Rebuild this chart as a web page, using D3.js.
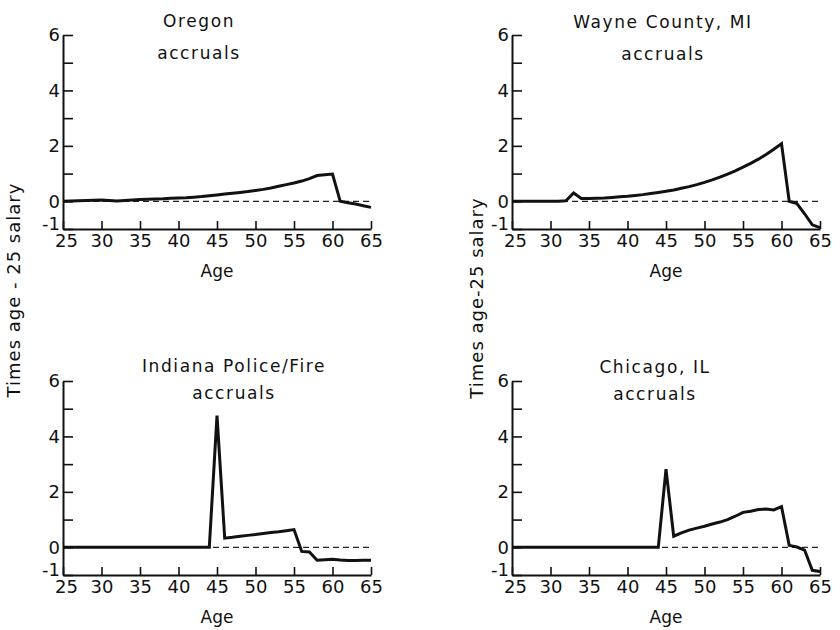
<!DOCTYPE html>
<html>
<head>
<meta charset="utf-8">
<script src="https://cdn.jsdelivr.net/npm/d3@7"></script>
<style>
  body { margin: 0; background: #fff; }
  text { font-family: 'DejaVu Sans', sans-serif; fill: #111; }
</style>
</head>
<body>
<svg id="chart" width="840" height="630"></svg>
<script>
// Accruals, in multiples of age-25 salary, by age of the worker
const ages = [25, 26, 27, 28, 29, 30, 31, 32, 33, 34, 35, 36, 37, 38, 39, 40, 41, 42, 43, 44, 45,
  46, 47, 48, 49, 50, 51, 52, 53, 54, 55, 56, 57, 58, 59, 60, 61, 62, 63, 64, 65]

const oregon = [0, 0.01, 0.02, 0.03, 0.04, 0.05, 0.03, 0.01, 0.03, 0.05, 0.06, 0.07, 0.08, 0.09, 0.11, 0.12,
  0.13, 0.15, 0.17, 0.2, 0.23, 0.26, 0.29, 0.32, 0.35, 0.39, 0.43, 0.48, 0.54, 0.6, 0.66,
  0.73, 0.82, 0.93, 0.96, 0.98, 0.0, -0.05, -0.1, -0.16, -0.22]

const wayne = [0, 0, 0, 0, 0, 0, 0, 0.02, 0.3, 0.1, 0.1, 0.11, 0.12, 0.14, 0.16, 0.18,
  0.21, 0.24, 0.28, 0.32, 0.36, 0.41, 0.47, 0.53, 0.6, 0.68, 0.77, 0.87, 0.98, 1.1, 1.23,
  1.37, 1.52, 1.69, 1.88, 2.08, 0.0, -0.08, -0.45, -0.85, -0.95]

const indiana = [0, 0, 0, 0, 0, 0, 0, 0, 0, 0, 0, 0, 0, 0, 0, 0, 0, 0, 0, 0, 4.75,
  0.33, 0.36, 0.4, 0.43, 0.46, 0.5, 0.53, 0.56, 0.6, 0.64,
  -0.15, -0.17, -0.47, -0.45, -0.43, -0.46, -0.48, -0.48, -0.47, -0.47]

const chicago = [0, 0, 0, 0, 0, 0, 0, 0, 0, 0, 0, 0, 0, 0, 0, 0, 0, 0, 0, 0, 2.82,
  0.4, 0.52, 0.62, 0.69, 0.76, 0.84, 0.91, 1.0, 1.12, 1.26,
  1.3, 1.36, 1.38, 1.35, 1.47, 0.07, 0.01, -0.1, -0.83, -0.87]

const titles = [
  ['Oregon', 'accruals'],
  ['Wayne County, MI', 'accruals'],
  ['Indiana Police/Fire', 'accruals'],
  ['Chicago, IL', 'accruals']
]

const xTicks = [25, 30, 35, 40, 45, 50, 55, 60, 65]
const yTicks = [-1, 0, 1, 2, 3, 4, 5, 6]
const yLabelled = [-1, 0, 2, 4, 6]

// where each small multiple sits on the page
const panels = [
  { left: 63, top: 35, values: oregon, title: titles[0], tx: 199, ty: 27, gap: 32 },
  { left: 512, top: 35, values: wayne, title: titles[1], tx: 663, ty: 28, gap: 32 },
  { left: 63, top: 381, values: indiana, title: titles[2], tx: 234, ty: 372, gap: 27 },
  { left: 512, top: 381, values: chicago, title: titles[3], tx: 655, ty: 373, gap: 27 }
]
const width = 308
const height = 194

const svg = d3.select('#chart')

for (const p of panels) {
  const x = d3.scaleLinear().domain([25, 65]).range([p.left, p.left + width])
  const y = d3.scaleLinear().domain([-1, 6]).range([p.top + height, p.top])

  // x axis, ticks pointing up into the plot
  const gx = svg.append('g')
    .attr('transform', 'translate(0,' + (p.top + height) + ')')
    .call(d3.axisBottom(x).tickValues(xTicks).tickSize(-8).tickSizeOuter(0).tickPadding(5))
  gx.select('.domain').attr('stroke', '#111').attr('stroke-width', 2)
  gx.selectAll('.tick line').attr('stroke', '#111').attr('stroke-width', 1.6)
  gx.selectAll('.tick text')
    .style('font-family', "'DejaVu Sans', sans-serif")
    .style('font-size', '18px')
    .attr('fill', '#111')
    // first label sits a little right of the corner, as in the print
    .attr('dx', function (d) { return d === 25 ? 3 : 0 })

  // y axis, ticks pointing right
  const gy = svg.append('g')
    .attr('transform', 'translate(' + p.left + ',0)')
    .call(d3.axisLeft(y).tickValues(yTicks).tickSize(-10).tickSizeOuter(0).tickPadding(3)
      .tickFormat(function (d) { return yLabelled.includes(d) ? String(d) : '' }))
  gy.select('.domain').attr('stroke', '#111').attr('stroke-width', 2)
  gy.selectAll('.tick line').attr('stroke', '#111').attr('stroke-width', 1.6)
  gy.selectAll('.tick text')
    .style('font-family', "'DejaVu Sans', sans-serif")
    .style('font-size', '18px')
    .attr('fill', '#111')
    .attr('y', function (d) { return d === -1 ? -5 : 0 })

  // dashed zero reference
  svg.append('line')
    .attr('x1', x(25)).attr('x2', x(65))
    .attr('y1', y(0)).attr('y2', y(0))
    .attr('stroke', '#222')
    .attr('stroke-width', 1.3)
    .attr('stroke-dasharray', '6,4')

  const line = d3.line()
    .x(function (d, i) { return x(ages[i]) })
    .y(function (d) { return y(d) })

  svg.append('path')
    .datum(p.values)
    .attr('d', line)
    .attr('fill', 'none')
    .attr('stroke', '#111')
    .attr('stroke-width', 3)
    .attr('stroke-linejoin', 'miter')
    .attr('stroke-miterlimit', 3)

  // two line title
  svg.append('text')
    .attr('x', p.tx).attr('y', p.ty)
    .attr('text-anchor', 'middle')
    .style('font-size', '17px')
    .style('letter-spacing', '1.6px')
    .text(p.title[0])
  svg.append('text')
    .attr('x', p.tx).attr('y', p.ty + p.gap)
    .attr('text-anchor', 'middle')
    .style('font-size', '17px')
    .style('letter-spacing', '1.6px')
    .text(p.title[1])

  svg.append('text')
    .attr('x', x(45)).attr('y', p.top + height + 48)
    .attr('text-anchor', 'middle')
    .style('font-size', '17px')
    .text('Age')
}

// shared y titles, one for each column
svg.append('text')
  .attr('transform', 'translate(20,290) rotate(-90)')
  .attr('text-anchor', 'middle')
  .style('font-size', '18px')
  .style('letter-spacing', '1px')
  .text('Times age - 25 salary')

svg.append('text')
  .attr('transform', 'translate(483,298) rotate(-90)')
  .attr('text-anchor', 'middle')
  .style('font-size', '18px')
  .style('letter-spacing', '1px')
  .text('Times age-25 salary')
</script>
</body>
</html>
